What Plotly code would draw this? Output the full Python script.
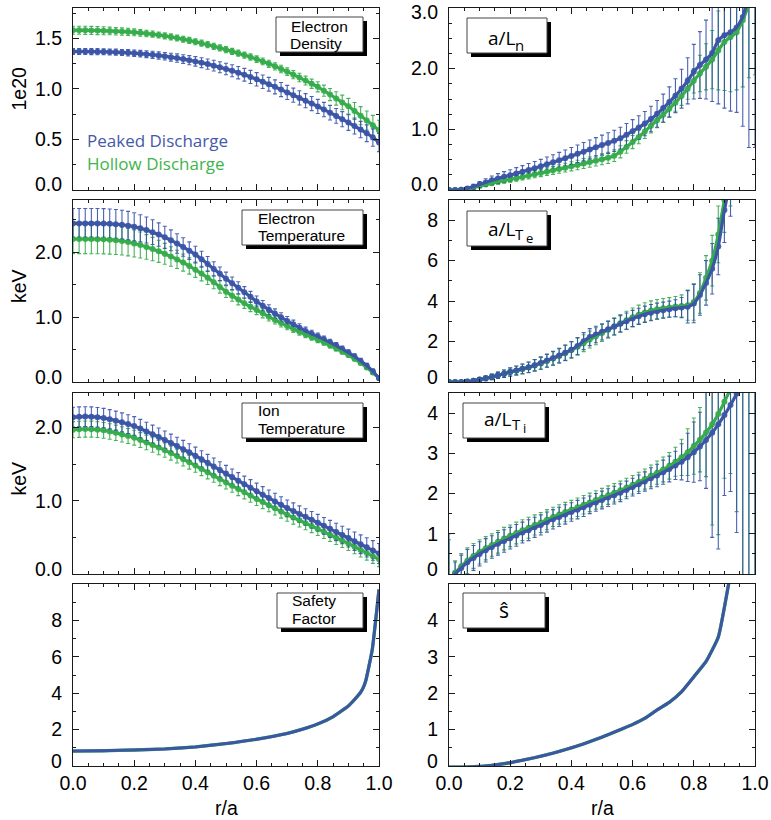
import plotly.graph_objects as go

# ---------------- data ----------------
R = [0.00, 0.02, 0.04, 0.06, 0.08, 0.10, 0.12, 0.14, 0.16, 0.18,
     0.20, 0.22, 0.24, 0.26, 0.28, 0.30, 0.32, 0.34, 0.36, 0.38,
     0.40, 0.42, 0.44, 0.46, 0.48, 0.50, 0.52, 0.54, 0.56, 0.58,
     0.60, 0.62, 0.64, 0.66, 0.68, 0.70, 0.72, 0.74, 0.76, 0.78,
     0.80, 0.82, 0.84, 0.86, 0.88, 0.90, 0.92, 0.94, 0.96, 0.98,
     1.00]

# Electron density (1e20)
NE_PEAKED = [1.370, 1.370, 1.370, 1.369, 1.368, 1.367, 1.365, 1.363, 1.360, 1.357,
             1.353, 1.348, 1.343, 1.337, 1.330, 1.323, 1.314, 1.305, 1.295, 1.284,
             1.272, 1.259, 1.245, 1.230, 1.214, 1.197, 1.179, 1.160, 1.140, 1.118,
             1.095, 1.071, 1.046, 1.020, 0.993, 0.965, 0.938, 0.911, 0.883, 0.855,
             0.826, 0.796, 0.765, 0.733, 0.700, 0.667, 0.633, 0.598, 0.561, 0.519,
             0.470]
NE_PEAKED_ERR = [0.030, 0.030, 0.030, 0.030, 0.030, 0.030, 0.030, 0.030, 0.030, 0.031,
                 0.032, 0.033, 0.034, 0.035, 0.036, 0.037, 0.039, 0.041, 0.043, 0.045,
                 0.047, 0.049, 0.051, 0.053, 0.055, 0.057, 0.059, 0.061, 0.063, 0.065,
                 0.066, 0.067, 0.068, 0.069, 0.070, 0.070, 0.070, 0.070, 0.070, 0.070,
                 0.070, 0.071, 0.072, 0.073, 0.075, 0.077, 0.079, 0.081, 0.083, 0.086,
                 0.090]
NE_HOLLOW = [1.580, 1.580, 1.579, 1.578, 1.577, 1.575, 1.573, 1.570, 1.567, 1.564,
             1.560, 1.554, 1.548, 1.541, 1.533, 1.524, 1.514, 1.503, 1.491, 1.479,
             1.466, 1.452, 1.437, 1.421, 1.405, 1.388, 1.371, 1.353, 1.334, 1.315,
             1.295, 1.272, 1.248, 1.223, 1.197, 1.170, 1.141, 1.112, 1.082, 1.051,
             1.020, 0.982, 0.944, 0.905, 0.866, 0.828, 0.782, 0.735, 0.688, 0.640,
             0.590]
NE_HOLLOW_ERR = [0.040, 0.040, 0.040, 0.040, 0.040, 0.039, 0.038, 0.037, 0.036, 0.035,
                 0.034, 0.033, 0.032, 0.031, 0.030, 0.030, 0.030, 0.030, 0.030, 0.030,
                 0.030, 0.030, 0.030, 0.030, 0.030, 0.030, 0.030, 0.030, 0.031, 0.032,
                 0.033, 0.034, 0.035, 0.036, 0.037, 0.038, 0.040, 0.042, 0.044, 0.046,
                 0.050, 0.055, 0.060, 0.066, 0.072, 0.078, 0.084, 0.090, 0.094, 0.098,
                 0.100]

# Electron temperature (keV)
TE_PEAKED = [2.440, 2.440, 2.440, 2.440, 2.439, 2.437, 2.433, 2.427, 2.418, 2.405,
             2.388, 2.366, 2.338, 2.305, 2.268, 2.226, 2.180, 2.130, 2.077, 2.020,
             1.960, 1.890, 1.815, 1.740, 1.665, 1.590, 1.520, 1.450, 1.380, 1.310,
             1.240, 1.175, 1.112, 1.052, 0.995, 0.940, 0.888, 0.836, 0.786, 0.742,
             0.700, 0.656, 0.610, 0.560, 0.508, 0.452, 0.392, 0.325, 0.250, 0.165,
             0.060]
TE_PEAKED_ERR = [0.230, 0.230, 0.230, 0.230, 0.230, 0.230, 0.228, 0.226, 0.224, 0.220,
                 0.215, 0.208, 0.200, 0.190, 0.180, 0.170, 0.160, 0.150, 0.142, 0.135,
                 0.128, 0.122, 0.116, 0.110, 0.105, 0.100, 0.096, 0.092, 0.088, 0.085,
                 0.082, 0.079, 0.076, 0.073, 0.070, 0.067, 0.064, 0.061, 0.058, 0.055,
                 0.052, 0.050, 0.048, 0.046, 0.044, 0.042, 0.040, 0.038, 0.036, 0.034,
                 0.032]
TE_HOLLOW = [2.200, 2.200, 2.200, 2.199, 2.198, 2.195, 2.190, 2.182, 2.170, 2.153,
             2.132, 2.107, 2.078, 2.045, 2.010, 1.972, 1.930, 1.886, 1.838, 1.785,
             1.728, 1.668, 1.605, 1.535, 1.462, 1.390, 1.328, 1.268, 1.210, 1.158,
             1.108, 1.056, 1.005, 0.955, 0.906, 0.860, 0.815, 0.772, 0.730, 0.690,
             0.650, 0.607, 0.562, 0.515, 0.466, 0.415, 0.357, 0.293, 0.222, 0.145,
             0.060]
TE_HOLLOW_ERR = [0.225, 0.225, 0.225, 0.225, 0.225, 0.224, 0.222, 0.220, 0.217, 0.213,
                 0.208, 0.200, 0.190, 0.180, 0.170, 0.160, 0.150, 0.140, 0.132, 0.125,
                 0.118, 0.112, 0.106, 0.100, 0.095, 0.090, 0.086, 0.082, 0.078, 0.075,
                 0.072, 0.069, 0.066, 0.063, 0.060, 0.057, 0.054, 0.051, 0.048, 0.046,
                 0.044, 0.042, 0.040, 0.038, 0.036, 0.034, 0.032, 0.031, 0.030, 0.030,
                 0.030]

# Ion temperature (keV)
TI_PEAKED = [2.140, 2.145, 2.148, 2.147, 2.140, 2.128, 2.112, 2.093, 2.070, 2.046,
             2.020, 1.984, 1.946, 1.908, 1.870, 1.830, 1.788, 1.746, 1.704, 1.660,
             1.615, 1.566, 1.517, 1.468, 1.419, 1.370, 1.322, 1.274, 1.226, 1.178,
             1.130, 1.083, 1.037, 0.991, 0.945, 0.900, 0.860, 0.820, 0.780, 0.740,
             0.700, 0.658, 0.616, 0.574, 0.532, 0.490, 0.448, 0.406, 0.364, 0.322,
             0.280]
TI_PEAKED_ERR = [0.135, 0.135, 0.135, 0.134, 0.133, 0.132, 0.131, 0.130, 0.129, 0.128,
                 0.127, 0.126, 0.125, 0.124, 0.123, 0.122, 0.121, 0.120, 0.119, 0.118,
                 0.117, 0.116, 0.115, 0.114, 0.113, 0.112, 0.111, 0.110, 0.110, 0.110,
                 0.110, 0.110, 0.110, 0.110, 0.110, 0.110, 0.110, 0.110, 0.111, 0.112,
                 0.113, 0.114, 0.116, 0.118, 0.120, 0.122, 0.125, 0.128, 0.131, 0.134,
                 0.137]
TI_HOLLOW = [1.970, 1.975, 1.978, 1.977, 1.970, 1.960, 1.945, 1.926, 1.905, 1.883,
             1.860, 1.828, 1.795, 1.761, 1.726, 1.690, 1.650, 1.609, 1.567, 1.524,
             1.480, 1.434, 1.388, 1.342, 1.296, 1.250, 1.205, 1.160, 1.115, 1.070,
             1.025, 0.982, 0.939, 0.896, 0.853, 0.810, 0.771, 0.732, 0.693, 0.654,
             0.615, 0.575, 0.535, 0.495, 0.455, 0.415, 0.372, 0.329, 0.286, 0.243,
             0.200]
TI_HOLLOW_ERR = [0.110, 0.110, 0.110, 0.109, 0.108, 0.107, 0.106, 0.105, 0.104, 0.103,
                 0.102, 0.101, 0.100, 0.099, 0.098, 0.097, 0.096, 0.095, 0.094, 0.093,
                 0.092, 0.091, 0.090, 0.090, 0.090, 0.090, 0.090, 0.090, 0.090, 0.090,
                 0.090, 0.090, 0.090, 0.090, 0.090, 0.090, 0.090, 0.090, 0.090, 0.090,
                 0.090, 0.090, 0.091, 0.092, 0.093, 0.094, 0.095, 0.096, 0.097, 0.098,
                 0.100]

# Safety factor
R_Q = [0.00, 0.10, 0.20, 0.30, 0.40, 0.50, 0.60, 0.70, 0.75, 0.80,
       0.85, 0.90, 0.92, 0.94, 0.95, 0.957, 0.978, 1.00]
Q = [0.82, 0.84, 0.88, 0.94, 1.05, 1.23, 1.47, 1.79, 2.02, 2.31,
     2.71, 3.30, 3.65, 4.05, 4.36, 4.70, 6.40, 9.70]

# a/Ln
LN_PEAKED = [0.000, 0.000, 0.005, 0.025, 0.055, 0.090, 0.125, 0.160, 0.190, 0.218,
             0.245, 0.273, 0.302, 0.331, 0.360, 0.390, 0.423, 0.456, 0.490, 0.525,
             0.560, 0.596, 0.632, 0.668, 0.704, 0.740, 0.774, 0.810, 0.855, 0.910,
             0.970, 1.030, 1.095, 1.170, 1.255, 1.350, 1.450, 1.555, 1.670, 1.800,
             1.950, 2.060, 2.150, 2.260, 2.470, 2.550, 2.600, 2.680, 2.850, 3.200,
             3.500]
LN_PEAKED_ERR = [0.000, 0.010, 0.020, 0.030, 0.040, 0.050, 0.060, 0.070, 0.080, 0.085,
                 0.090, 0.095, 0.100, 0.105, 0.110, 0.115, 0.120, 0.125, 0.130, 0.135,
                 0.140, 0.145, 0.150, 0.155, 0.160, 0.165, 0.170, 0.175, 0.180, 0.185,
                 0.190, 0.195, 0.200, 0.210, 0.220, 0.230, 0.250, 0.280, 0.320, 0.380,
                 0.450, 0.550, 0.650, 0.800, 1.050, 1.200, 1.300, 1.400, 1.800, 2.500,
                 2.800]
LN_HOLLOW = [0.000, 0.000, 0.003, 0.015, 0.040, 0.065, 0.090, 0.113, 0.135, 0.155,
             0.175, 0.195, 0.215, 0.237, 0.258, 0.280, 0.302, 0.324, 0.346, 0.368,
             0.390, 0.412, 0.436, 0.460, 0.482, 0.505, 0.530, 0.565, 0.630, 0.710,
             0.790, 0.875, 0.965, 1.060, 1.150, 1.240, 1.340, 1.440, 1.550, 1.670,
             1.800, 1.920, 2.030, 2.150, 2.300, 2.440, 2.520, 2.600, 2.800, 3.050,
             3.300]
LN_HOLLOW_ERR = [0.000, 0.005, 0.010, 0.015, 0.020, 0.025, 0.030, 0.034, 0.038, 0.042,
                 0.045, 0.048, 0.051, 0.054, 0.057, 0.060, 0.063, 0.066, 0.069, 0.072,
                 0.075, 0.078, 0.081, 0.084, 0.087, 0.090, 0.093, 0.096, 0.100, 0.104,
                 0.108, 0.112, 0.116, 0.120, 0.124, 0.128, 0.134, 0.142, 0.155, 0.175,
                 0.200, 0.300, 0.380, 0.480, 0.650, 0.800, 0.900, 0.950, 1.100, 1.200,
                 1.400]

# a/LTe
LTE_PEAKED = [0.00, 0.00, 0.00, 0.02, 0.06, 0.12, 0.18, 0.25, 0.33, 0.41,
              0.50, 0.57, 0.65, 0.73, 0.83, 0.94, 1.06, 1.18, 1.31, 1.45,
              1.60, 1.78, 2.02, 2.22, 2.35, 2.48, 2.61, 2.74, 2.88, 3.01,
              3.14, 3.25, 3.35, 3.43, 3.50, 3.55, 3.60, 3.65, 3.68, 3.72,
              3.88, 4.30, 4.90, 5.60, 6.70, 8.50, 10.00, 11.50, 13.00, 14.50,
              16.00]
LTE_PEAKED_ERR = [0.00, 0.00, 0.02, 0.05, 0.08, 0.10, 0.12, 0.14, 0.16, 0.18,
                  0.20, 0.22, 0.24, 0.26, 0.28, 0.30, 0.32, 0.34, 0.36, 0.38,
                  0.40, 0.42, 0.42, 0.42, 0.41, 0.40, 0.40, 0.40, 0.40, 0.40,
                  0.40, 0.40, 0.40, 0.40, 0.40, 0.40, 0.40, 0.42, 0.50, 0.80,
                  0.95, 1.00, 1.10, 1.25, 1.40, 1.60, 1.80, 2.00, 2.20, 2.40,
                  2.60]
LTE_HOLLOW = [0.00, 0.00, 0.00, 0.02, 0.06, 0.12, 0.18, 0.25, 0.33, 0.41,
              0.49, 0.56, 0.64, 0.72, 0.82, 0.92, 1.04, 1.16, 1.29, 1.43,
              1.58, 1.74, 1.92, 2.10, 2.26, 2.42, 2.58, 2.74, 2.90, 3.05,
              3.20, 3.33, 3.44, 3.53, 3.60, 3.65, 3.69, 3.73, 3.76, 3.80,
              3.95, 4.40, 5.15, 6.00, 7.30, 9.00, 10.50, 12.00, 13.50, 15.00,
              16.50]
LTE_HOLLOW_ERR = [0.00, 0.00, 0.02, 0.05, 0.08, 0.10, 0.12, 0.14, 0.16, 0.18,
                  0.20, 0.22, 0.24, 0.26, 0.28, 0.30, 0.32, 0.34, 0.36, 0.38,
                  0.40, 0.42, 0.42, 0.42, 0.42, 0.42, 0.42, 0.43, 0.44, 0.45,
                  0.46, 0.47, 0.48, 0.48, 0.48, 0.48, 0.48, 0.50, 0.55, 0.75,
                  0.90, 1.00, 1.10, 1.25, 1.40, 1.60, 1.80, 2.00, 2.20, 2.40,
                  2.60]

# a/LTi
LTI_PEAKED = [-0.20, 0.00, 0.15, 0.29, 0.40, 0.50, 0.59, 0.67, 0.75, 0.82,
              0.89, 0.96, 1.03, 1.09, 1.16, 1.22, 1.29, 1.36, 1.42, 1.48,
              1.54, 1.60, 1.66, 1.72, 1.78, 1.84, 1.90, 1.96, 2.02, 2.09,
              2.16, 2.23, 2.30, 2.38, 2.45, 2.53, 2.61, 2.70, 2.79, 2.90,
              3.03, 3.17, 3.33, 3.51, 3.72, 3.95, 4.20, 4.48, 4.78, 5.10,
              5.40]
LTI_PEAKED_ERR = [1.20, 0.30, 0.32, 0.32, 0.31, 0.30, 0.29, 0.28, 0.28, 0.28,
                  0.27, 0.27, 0.26, 0.26, 0.25, 0.25, 0.25, 0.24, 0.24, 0.24,
                  0.23, 0.23, 0.23, 0.22, 0.22, 0.22, 0.22, 0.22, 0.22, 0.22,
                  0.22, 0.23, 0.24, 0.26, 0.28, 0.30, 0.32, 0.35, 0.45, 0.60,
                  0.75, 0.85, 1.20, 2.60, 3.10, 2.00, 2.15, 3.45, 5.50, 6.00,
                  6.50]
LTI_HOLLOW = [-0.15, 0.03, 0.19, 0.33, 0.45, 0.55, 0.64, 0.72, 0.80, 0.88,
              0.95, 1.02, 1.09, 1.15, 1.22, 1.28, 1.35, 1.42, 1.48, 1.54,
              1.60, 1.66, 1.72, 1.78, 1.84, 1.90, 1.96, 2.02, 2.08, 2.15,
              2.22, 2.29, 2.36, 2.44, 2.52, 2.60, 2.69, 2.79, 2.90, 3.03,
              3.18, 3.34, 3.52, 3.72, 3.98, 4.28, 4.60, 4.95, 5.30, 5.70,
              6.10]
LTI_HOLLOW_ERR = [1.00, 0.30, 0.32, 0.32, 0.31, 0.30, 0.29, 0.28, 0.28, 0.28,
                  0.27, 0.27, 0.26, 0.26, 0.25, 0.25, 0.25, 0.24, 0.24, 0.24,
                  0.23, 0.23, 0.23, 0.23, 0.23, 0.23, 0.23, 0.23, 0.23, 0.23,
                  0.23, 0.24, 0.25, 0.27, 0.29, 0.31, 0.33, 0.36, 0.45, 0.58,
                  0.70, 0.80, 1.10, 2.50, 3.00, 1.90, 2.10, 3.40, 5.50, 6.00,
                  6.50]

# magnetic shear s-hat
R_S = [0.00, 0.04, 0.08, 0.12, 0.16, 0.20, 0.24, 0.28, 0.32, 0.36,
       0.40, 0.44, 0.48, 0.52, 0.56, 0.60, 0.64, 0.68, 0.72, 0.76,
       0.80, 0.84, 0.88, 0.92]
SHAT = [-0.03, -0.03, -0.02, 0.00, 0.04, 0.09, 0.16, 0.23, 0.31, 0.40,
        0.50, 0.61, 0.73, 0.86, 1.00, 1.14, 1.31, 1.54, 1.75, 2.04,
        2.45, 2.87, 3.54, 5.30]

X_TICKVALS = [0, 0.2, 0.4, 0.6, 0.8, 1.0]
X_TICKTEXT = ["0.0", "0.2", "0.4", "0.6", "0.8", "1.0"]

# y tick values / labels per panel (labels sitting on the frame's bottom or top
# edge are placed separately so they stay inside the panel height, as in the original)
Y_NE_TICKS = [0, 0.5, 1.0, 1.5]
Y_NE_TEXT = ["0.0", "0.5", "1.0", "1.5"]
Y_TE_TICKS = [0, 1.0, 2.0]
Y_TE_TEXT = ["0.0", "1.0", "2.0"]
Y_TI_TICKS = [0, 1.0, 2.0]
Y_TI_TEXT = ["0.0", "1.0", "2.0"]
Y_Q_TICKS = [0, 2, 4, 6, 8]
Y_Q_TEXT = ["0", "2", "4", "6", "8"]
Y_LN_TICKS = [0, 1.0, 2.0, 3.0]
Y_LN_TEXT = ["0.0", "1.0", "2.0", "3.0"]
Y_LTE_TICKS = [0, 2, 4, 6, 8]
Y_LTE_TEXT = ["0", "2", "4", "6", "8"]
Y_LTI_TICKS = [0, 1, 2, 3, 4]
Y_LTI_TEXT = ["0", "1", "2", "3", "4"]
Y_S_TICKS = [0, 1, 2, 3, 4]
Y_S_TEXT = ["0", "1", "2", "3", "4"]

# ---------------- styling ----------------
W, H = 771, 820
BLUE = "#3c56a6"
GREEN = "#36ad4a"
BLUE_BAR = "rgba(50,76,168,0.88)"
GREEN_BAR = "rgba(46,170,70,0.88)"
AXC = "#1a1a1a"
LABFONT = "Liberation Sans, Arial, sans-serif"
TICKFS = 19.5
TICKFONT = dict(family=LABFONT, size=TICKFS, color="black")
MYRIAD = "Open Sans, Lato, sans-serif"

COLS = [(73, 379), (449, 755)]
ROWS = [(8, 190), (200, 382), (393, 574), (584, 766)]


def fx(x):
    return x / W


def fy(y):
    return 1 - y / H


fig = go.Figure()

# panel specs: (k, col, row, yrange, tickvals, ticktext, minor)
PANELS = [
    (1, 0, 0, [0, 1.8], Y_NE_TICKS, Y_NE_TEXT, 0.25),
    (2, 0, 1, [0, 2.8], Y_TE_TICKS, Y_TE_TEXT, 0.5),
    (3, 0, 2, [0, 2.47], Y_TI_TICKS, Y_TI_TEXT, 0.5),
    (4, 0, 3, [0, 10], Y_Q_TICKS, Y_Q_TEXT, 1),
    (5, 1, 0, [0, 3.0], Y_LN_TICKS, Y_LN_TEXT, 0.25),
    (6, 1, 1, [0, 9.0], Y_LTE_TICKS, Y_LTE_TEXT, 1),
    (7, 1, 2, [0, 4.5], Y_LTI_TICKS, Y_LTI_TEXT, 0.5),
    (8, 1, 3, [0, 5.0], Y_S_TICKS, Y_S_TEXT, 0.5),
]

ann = []


def txt(x, y, s, size, font=LABFONT, color="black", xanchor="center", angle=0):
    ann.append(dict(x=fx(x), y=fy(y), xref="paper", yref="paper", text=s, showarrow=False,
                    xanchor=xanchor, yanchor="middle", textangle=angle,
                    font=dict(family=font, size=size, color=color)))


layout_axes = {}
for k, c, r, yr, tv, tt, mn in PANELS:
    xs = "xaxis" if k == 1 else f"xaxis{k}"
    ys = "yaxis" if k == 1 else f"yaxis{k}"
    ya_id = "y" if k == 1 else f"y{k}"
    xa_id = "x" if k == 1 else f"x{k}"
    x0, x1 = COLS[c]
    t, b = ROWS[r]
    layout_axes[xs] = dict(
        domain=[fx(x0), fx(x1)], anchor=ya_id, range=[0, 1],
        tickmode="array", tickvals=X_TICKVALS, ticktext=X_TICKTEXT,
        showticklabels=(r == 3), ticks="inside", ticklen=6, tickwidth=1, tickcolor=AXC,
        minor=dict(dtick=0.05, tick0=0, ticks="inside", ticklen=3, tickcolor=AXC, tickwidth=1),
        showline=True, linecolor=AXC, linewidth=1, mirror="allticks",
        showgrid=False, zeroline=False, tickfont=TICKFONT, automargin=False,
        ticklabelstandoff=0, ticklabeloverflow="allow",
    )
    shown = list(tt)
    shown[0] = ""
    # zero label, lifted so it sits inside the panel's height
    txt(x0 - 9.5, b - 5.5, tt[0], TICKFS, xanchor="right")
    if tv[-1] >= yr[1] - 1e-9:
        # label at the very top of the frame, kept inside the picture
        shown[-1] = ""
        txt(x0 - 9.5, t + 3.5, tt[-1], TICKFS, xanchor="right")
    layout_axes[ys] = dict(
        domain=[fy(b), fy(t)], anchor=xa_id, range=yr,
        tickmode="array", tickvals=tv, ticktext=shown,
        ticks="inside", ticklen=6, tickwidth=1, tickcolor=AXC,
        minor=dict(dtick=mn, tick0=0, ticks="inside", ticklen=3, tickcolor=AXC, tickwidth=1),
        showline=True, linecolor=AXC, linewidth=1, mirror="allticks",
        showgrid=False, zeroline=False, tickfont=TICKFONT, automargin=False,
        ticklabelstandoff=6, ticklabeloverflow="allow",
    )


def ax_ids(k):
    return ("x" if k == 1 else f"x{k}", "y" if k == 1 else f"y{k}")


def bars(k, x, y, err, color):
    xa, ya = ax_ids(k)
    fig.add_trace(go.Scatter(
        x=x, y=y, mode="markers", marker=dict(size=0, color=color),
        error_y=dict(type="data", array=err, symmetric=True, color=color, thickness=1.1, width=2),
        xaxis=xa, yaxis=ya, showlegend=False, hoverinfo="skip"))


def line(k, x, y, color, width=3.2):
    xa, ya = ax_ids(k)
    fig.add_trace(go.Scatter(
        x=x, y=y, mode="lines", line=dict(color=color, width=width, shape="spline", smoothing=0.4),
        xaxis=xa, yaxis=ya, showlegend=False, hoverinfo="skip"))


PAIRS = [
    (1, NE_PEAKED, NE_PEAKED_ERR, NE_HOLLOW, NE_HOLLOW_ERR),
    (2, TE_PEAKED, TE_PEAKED_ERR, TE_HOLLOW, TE_HOLLOW_ERR),
    (3, TI_PEAKED, TI_PEAKED_ERR, TI_HOLLOW, TI_HOLLOW_ERR),
    (5, LN_PEAKED, LN_PEAKED_ERR, LN_HOLLOW, LN_HOLLOW_ERR),
    (6, LTE_PEAKED, LTE_PEAKED_ERR, LTE_HOLLOW, LTE_HOLLOW_ERR),
    (7, LTI_PEAKED, LTI_PEAKED_ERR, LTI_HOLLOW, LTI_HOLLOW_ERR),
]
for k, yb, eb, yg, eg in PAIRS:
    bars(k, R, yg, eg, GREEN_BAR)
    bars(k, R, yb, eb, BLUE_BAR)
    line(k, R, yg, GREEN)
    line(k, R, yb, BLUE)

line(4, R_Q, Q, GREEN, 3.4)
line(4, R_Q, Q, BLUE, 3.0)
line(8, R_S, SHAT, GREEN, 3.4)
line(8, R_S, SHAT, BLUE, 3.0)

# ---------------- label boxes ----------------
shapes = []
BOXES = [(276, 17, 363, 52), (242, 210, 363, 245), (242, 403, 363, 438), (277, 593, 363, 628),
         (467, 18, 547, 53), (467, 211, 547, 246), (463, 403, 545, 438), (463, 593, 545, 628)]
for (x0, y0, x1, y1) in BOXES:
    shapes.append(dict(type="rect", xref="paper", yref="paper", layer="above",
                       x0=fx(x0 + 4), x1=fx(x1 + 4), y0=fy(y1 + 4), y1=fy(y0 + 4),
                       fillcolor="black", line=dict(width=0)))
    shapes.append(dict(type="rect", xref="paper", yref="paper", layer="above",
                       x0=fx(x0), x1=fx(x1), y0=fy(y1), y1=fy(y0),
                       fillcolor="white", line=dict(color="#444444", width=1)))

BOXFS = 15.5
# box texts (left column)
txt(319, 26.2, "Electron", BOXFS)
txt(316, 43.8, "Density", BOXFS)
txt(256, 218.2, "Electron", BOXFS, xanchor="left")
txt(256, 235.8, "Temperature", BOXFS, xanchor="left")
txt(256, 410.8, "Ion", BOXFS, xanchor="left")
txt(256, 428.4, "Temperature", BOXFS, xanchor="left")
txt(290, 600.8, "Safety", BOXFS, xanchor="left")
txt(290, 618.4, "Factor", BOXFS, xanchor="left")

# box texts (right column)
txt(486, 38, "a/L", 19, font=MYRIAD, xanchor="left")
txt(513, 45, "n", 15, font=MYRIAD, xanchor="left")
txt(486, 229, "a/L", 19, font=MYRIAD, xanchor="left")
txt(513, 234, "T", 15, font=MYRIAD, xanchor="left")
txt(524, 238, "e", 13, font=MYRIAD, xanchor="left")
txt(482, 419, "a/L", 19, font=MYRIAD, xanchor="left")
txt(510, 424, "T", 15, font=MYRIAD, xanchor="left")
txt(521, 428, "i", 13, font=MYRIAD, xanchor="left")
txt(504, 610, "ŝ", 21, font=MYRIAD)

# legend text
txt(85, 140, "Peaked Discharge", 17, font=MYRIAD, color="#4459a8", xanchor="left")
txt(85, 163.5, "Hollow Discharge", 17, font=MYRIAD, color="#3db54a", xanchor="left")

# axis titles
txt(19, 88.5, "1e20", TICKFS, angle=-90)
txt(19, 286, "keV", TICKFS, angle=-90)
txt(19, 478.5, "keV", TICKFS, angle=-90)
txt(226, 808, "r/a", TICKFS)
txt(602, 808, "r/a", TICKFS)

fig.update_layout(
    width=W, height=H, margin=dict(l=0, r=0, t=0, b=0),
    paper_bgcolor="white", plot_bgcolor="white",
    showlegend=False, shapes=shapes, annotations=ann,
    **layout_axes,
)

fig.write_html("out.html")
